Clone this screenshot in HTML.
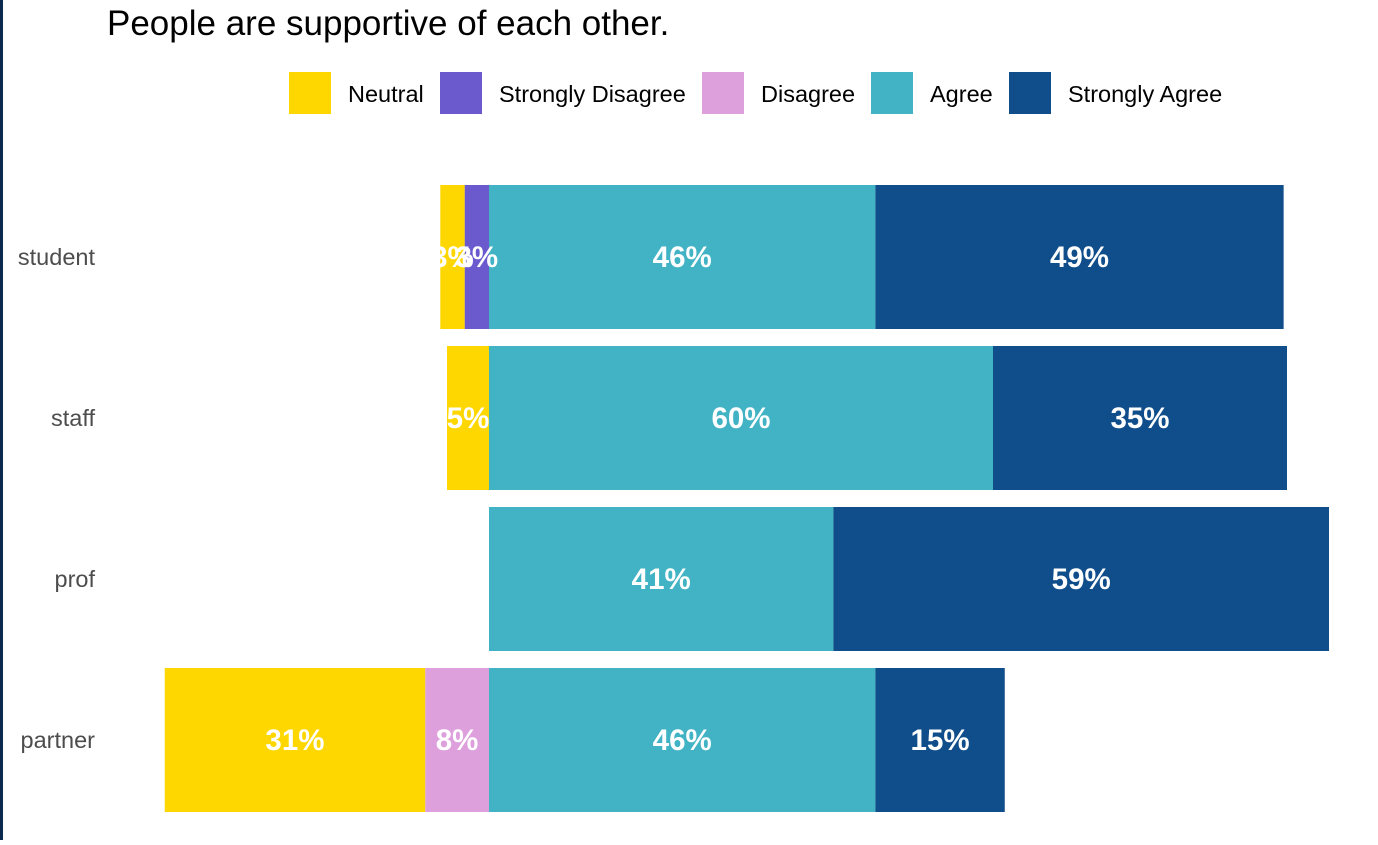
<!DOCTYPE html>
<html><head><meta charset="utf-8"><style>
html,body{margin:0;padding:0;background:#fff;}
body{width:1378px;height:840px;overflow:hidden;font-family:"Liberation Sans",Arial,sans-serif;}
</style></head><body>
<svg id="chart" width="1378" height="840" xmlns="http://www.w3.org/2000/svg">
<rect x="0" y="0" width="3" height="840" fill="#0c2a4d"/>
<text x="107" y="35" font-size="35" fill="#000">People are supportive of each other.</text>
<g id="legend"></g>
<g id="bars"></g>
<g id="ylabels"></g>
</svg>
<script>
const categories = ["student","staff","prof","partner"];
const neutral = [2.9, 5.0, 0, 31];
const stronglyDisagree = [2.9, 0, 0, 0];
const disagree = [0, 0, 0, 7.6];
const agree = [46, 60, 41, 46];
const stronglyAgree = [48.6, 35, 59, 15.4];
const seriesNames = ["Neutral","Strongly Disagree","Disagree","Agree","Strongly Agree"];
const colors = {"Neutral":"#FFD700","Strongly Disagree":"#6A5ACD","Disagree":"#DDA0DD","Agree":"#42B3C4","Strongly Agree":"#104E8B"};

const NS="http://www.w3.org/2000/svg";
const center=489, pxPer=8.4;
function xScale(v){return center+v*pxPer;}
function yBand(i){return 185+i*161;}
const bandH=144;
const bars=document.getElementById('bars');
function mk(tag,attrs,parent){const e=document.createElementNS(NS,tag);for(const k in attrs)e.setAttribute(k,attrs[k]);parent.appendChild(e);return e;}
function seg(i,v0,v1,name){
  if(v1-v0<=0) return;
  const x0=xScale(Math.min(v0,v1)), w=Math.abs(v1-v0)*pxPer;
  const r=mk('rect',{x:x0,y:yBand(i),width:w,height:bandH,fill:colors[name]},bars);
  
  
}
function lbl(i,v0,v1){
  const v=v1-v0; if(v<=0) return;
  const t=mk('text',{x:xScale((v0+v1)/2),y:yBand(i)+bandH/2+10,'text-anchor':'middle','font-size':29.5,'font-weight':'bold',fill:'#fff'},bars);
  t.textContent=Math.round(v)+'%';
  
  
}
const labels=[];
categories.forEach((c,i)=>{
  const sd=stronglyDisagree[i], d=disagree[i], n=neutral[i];
  seg(i,-(sd),0,"Strongly Disagree"); if(sd>0) labels.push([i,-sd,0]);
  seg(i,-(sd+d),-sd,"Disagree"); if(d>0) labels.push([i,-(sd+d),-sd]);
  seg(i,-(sd+d+n),-(sd+d),"Neutral"); if(n>0) labels.push([i,-(sd+d+n),-(sd+d)]);
  const a=agree[i], sa=stronglyAgree[i];
  seg(i,0,a,"Agree"); labels.push([i,0,a]);
  seg(i,a,a+sa,"Strongly Agree"); labels.push([i,a,a+sa]);
  const yl=mk('text',{x:95,y:yBand(i)+bandH/2+8,'text-anchor':'end','font-size':23.5,fill:'#4d4d4d'},document.getElementById('ylabels'));
  yl.textContent=c;
  
  
});
labels.forEach(l=>lbl(l[0],l[1],l[2]));
const legend=document.getElementById('legend');
const legX=[289,440,702,871,1009];
seriesNames.forEach((n,k)=>{
  const g=mk('g',{},legend);
  
  
  mk('rect',{x:legX[k],y:72,width:42,height:42,fill:colors[n]},g);
  const t=mk('text',{x:legX[k]+59,y:102,'font-size':23.5,fill:'#000'},g);
  t.textContent=n;
});
</script>
</body></html>
